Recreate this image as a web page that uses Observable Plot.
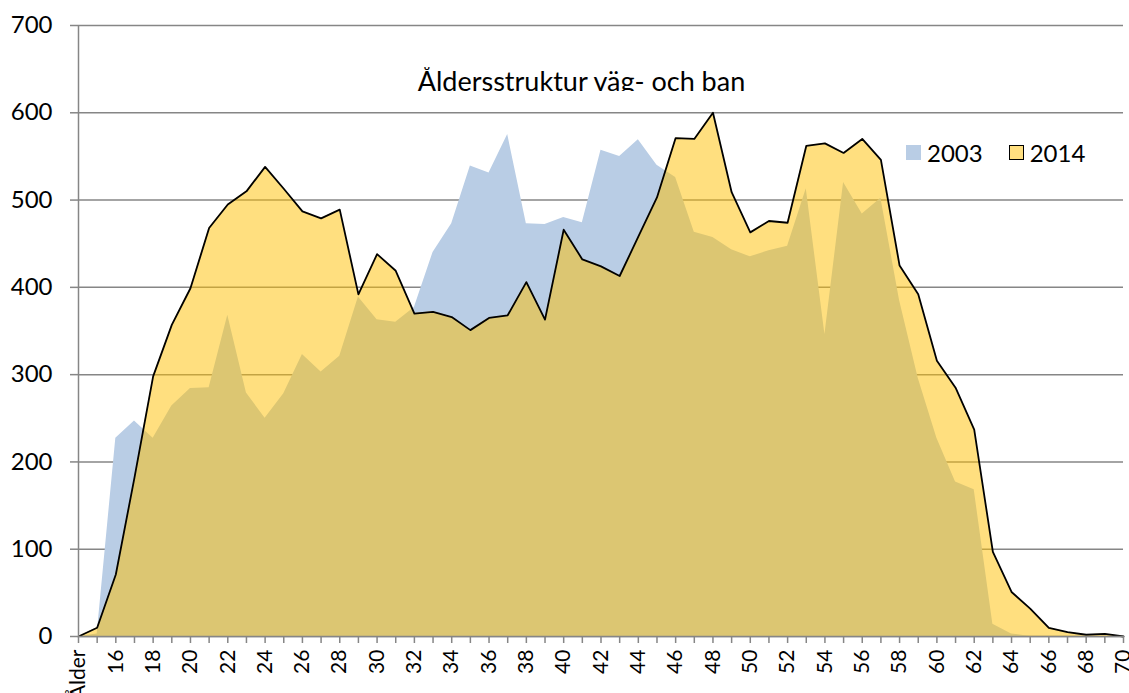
<!DOCTYPE html>
<html>
<head>
<meta charset="utf-8">
<script src="https://cdn.jsdelivr.net/npm/d3@7"></script>
<script src="https://cdn.jsdelivr.net/npm/@observablehq/plot@0.6"></script>
<style>
  html, body { margin: 0; padding: 0; background: #fff; overflow: hidden; }
  #wrap { position: relative; width: 1129px; height: 693px; font-family: Lato, "Open Sans", sans-serif; }
  #title { position: absolute; left: 0; width: 1163px; top: 67px; height: 24px; overflow: hidden; text-align: center; font-size: 27px; line-height: 27px; color: #000; white-space: nowrap; }
  #legend { position: absolute; left: 906px; top: 138px; font-size: 24px; color: #000; display: flex; align-items: center; }
  #legend .sw { display: inline-block; width: 15px; height: 15px; margin-right: 6px; box-sizing: border-box; }
  #legend .item { display: flex; align-items: center; margin-right: 26px; }
</style>
</head>
<body>
<div id="wrap">
  <div id="chart"></div>
  <div id="title">Åldersstruktur väg- och ban</div>
  <div id="legend"></div>
</div>
<script>
const ages = ["Ålder","15","16","17","18","19","20","21","22","23","24","25","26","27","28","29","30",
  "31","32","33","34","35","36","37","38","39","40","41","42","43","44","45","46","47","48","49","50",
  "51","52","53","54","55","56","57","58","59","60","61","62","63","64","65","66","67","68","69","70"];

const v2003 = [0, 3, 227, 247, 227, 264, 284, 285, 368, 279, 250, 278, 323, 303, 321, 389, 363,
  360, 377, 440, 473, 539, 531, 575, 473, 472, 480, 474, 557, 550, 569, 540, 526, 463, 457, 443, 435,
  442, 447, 513, 346, 520, 484, 502, 385, 296, 227, 177, 168, 14, 3, 0, 0, 0, 0, 0, 0];

const v2014 = [0, 10, 71, 182, 298, 357, 399, 468, 495, 510, 538, 513, 487, 479, 489, 392, 438,
  419, 370, 372, 366, 351, 365, 368, 406, 363, 466, 432, 424, 413, 458, 503, 571, 570, 600, 509, 463,
  476, 474, 562, 565, 554, 570, 546, 425, 392, 316, 285, 237, 97, 51, 32, 10, 5, 2, 3, 0];

const yTicks = [0, 100, 200, 300, 400, 500, 600, 700];
const seriesNames = ["2003", "2014"];
const colors = { "2003": "#b9cde5", "2014": "#ffc000" };

const d03 = ages.map((a, i) => ({ age: a, value: v2003[i] }));
const d14 = ages.map((a, i) => ({ age: a, value: v2014[i] }));

const gray = "#868686";

const chart = Plot.plot({
  width: 1129,
  height: 693,
  marginLeft: 78,
  marginRight: 6,
  marginTop: 25,
  marginBottom: 57,
  style: { fontFamily: "Lato, 'Open Sans', sans-serif", fontSize: "24px", color: "#000", background: "#fff", overflow: "hidden" },
  x: { type: "point", domain: ages, padding: 0 },
  y: { domain: [0, 700] },
  marks: [
    Plot.gridY(yTicks, { stroke: gray, strokeOpacity: 1, strokeWidth: 1.5 }),
    Plot.areaY(d03, { x: "age", y: "value", fill: colors["2003"], fillOpacity: 1 }),
    Plot.areaY(d14, { x: "age", y: "value", fill: colors["2014"], fillOpacity: 0.5 }),
    Plot.lineY(d14, { x: "age", y: "value", stroke: "#000", strokeWidth: 1.8 }),
    Plot.ruleY([0], { stroke: gray, strokeWidth: 1.5 }),
    Plot.ruleX([ages[0]], { stroke: gray, strokeWidth: 1.5 }),
    Plot.axisY(yTicks, { tickSize: 8, tickPadding: 18, stroke: gray, fill: "#000", fontSize: 24, label: null, strokeWidth: 1.5 }),
    Plot.axisX(ages, {
      tickRotate: -90, tickSize: 7, tickPadding: 6, stroke: gray, fill: "#000", fontSize: 21, label: null, strokeWidth: 1.5,
      tickFormat: d => (ages.indexOf(d) % 2 === 0 ? d : "")
    })
  ]
});
document.getElementById("chart").appendChild(chart);

const legend = document.getElementById("legend");
seriesNames.forEach(name => {
  const item = document.createElement("span");
  item.className = "item";
  const sw = document.createElement("span");
  sw.className = "sw";
  if (name === "2014") {
    sw.style.background = "#ffdf80";
    sw.style.border = "1.5px solid #000";
  } else {
    sw.style.background = colors[name];
  }
  item.appendChild(sw);
  item.appendChild(document.createTextNode(name));
  legend.appendChild(item);
});
</script>
</body>
</html>
